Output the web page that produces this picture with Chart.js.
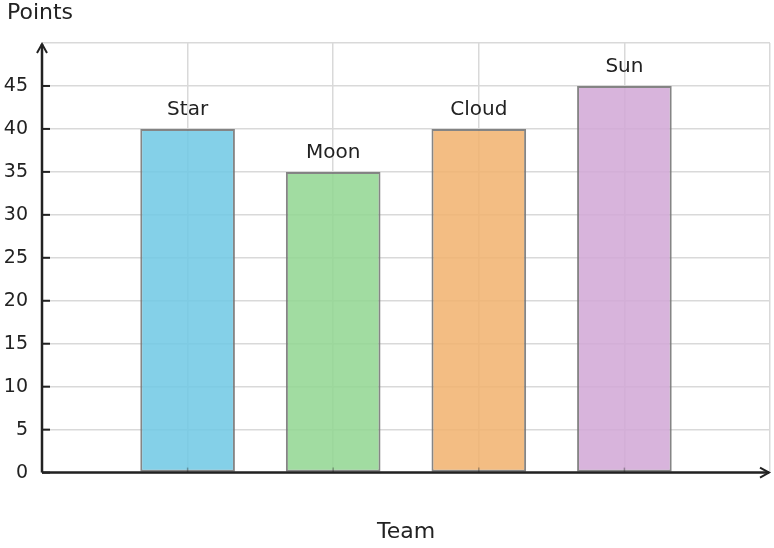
<!DOCTYPE html>
<html>
<head>
<meta charset="utf-8">
<script src="https://cdn.jsdelivr.net/npm/chart.js@4/dist/chart.umd.min.js"></script>
<style>
	html, body { margin: 0; padding: 0; background: #fff; }
	#wrap { width: 774px; height: 548px; }
</style>
</head>
<body>
<div id="wrap"><canvas id="teamChart"></canvas></div>
<script>
// data
const teams = ["", "Star", "Moon", "Cloud", "Sun", ""]
const points = [null, 40, 35, 40, 45, null]
const barColors = [
	"rgba(0,0,0,0)",
	"rgba(111,200,228,0.85)",
	"rgba(144,214,144,0.85)",
	"rgba(241,178,109,0.85)",
	"rgba(209,167,214,0.85)",
	"rgba(0,0,0,0)"
]
const yTicks = [0, 5, 10, 15, 20, 25, 30, 35, 40, 45]

const FONT = "'DejaVu Sans', sans-serif"
const AXIS = "#222222"

// axis arrows, inside tick marks, bar names, "Points" label
const decor = {
	id: "decor",
	afterDatasetsDraw(chart) {
		const ctx = chart.ctx
		const area = chart.chartArea
		const x = chart.scales.x
		const y = chart.scales.y
		const meta = chart.getDatasetMeta(0)

		ctx.save()
		// bar names
		ctx.fillStyle = AXIS
		ctx.font = "20px " + FONT
		ctx.textAlign = "center"
		ctx.textBaseline = "alphabetic"
		meta.data.forEach((bar, i) => {
			if (points[i] == null) return
			ctx.fillText(teams[i], bar.x, bar.y - 14)
		})

		// small tick marks on x axis
		ctx.strokeStyle = "rgba(34,34,34,0.35)"
		ctx.lineWidth = 1.5
		for (let i = 1; i < teams.length - 1; i++) {
			const px = x.getPixelForValue(i)
			ctx.beginPath()
			ctx.moveTo(px, area.bottom)
			ctx.lineTo(px, area.bottom - 5)
			ctx.stroke()
		}

		// y tick marks
		ctx.strokeStyle = AXIS
		ctx.lineWidth = 2
		yTicks.forEach(v => {
			const py = y.getPixelForValue(v)
			ctx.beginPath()
			ctx.moveTo(area.left, py)
			ctx.lineTo(area.left + 8, py)
			ctx.stroke()
		})

		// axes with arrows
		ctx.lineWidth = 2.5
		ctx.beginPath()
		ctx.moveTo(area.left, area.bottom)
		ctx.lineTo(area.left, area.top + 1)
		ctx.moveTo(area.left, area.bottom)
		ctx.lineTo(area.right - 1, area.bottom)
		ctx.stroke()
		ctx.lineWidth = 2
		ctx.beginPath()
		ctx.moveTo(area.left - 5, area.top + 10)
		ctx.lineTo(area.left, area.top + 1)
		ctx.lineTo(area.left + 5, area.top + 10)
		ctx.moveTo(area.right - 10, area.bottom - 5)
		ctx.lineTo(area.right - 1, area.bottom)
		ctx.lineTo(area.right - 10, area.bottom + 5)
		ctx.stroke()

		// y title, written flat at the top left
		ctx.font = "22px " + FONT
		ctx.textAlign = "left"
		ctx.textBaseline = "middle"
		ctx.fillText("Points", 7, 13)
		ctx.restore()
	}
}

new Chart(document.getElementById("teamChart"), {
	type: "bar",
	data: {
		labels: teams,
		datasets: [{
			data: points,
			backgroundColor: barColors,
			borderColor: "rgba(120,120,120,0.9)",
			borderWidth: 2,
			borderSkipped: false,
			barPercentage: 0.65,
			categoryPercentage: 1
		}]
	},
	options: {
		responsive: true,
		maintainAspectRatio: false,
		animation: false,
		devicePixelRatio: 1,
		layout: {
			padding: { left: 0, right: 4, top: 43, bottom: 3 }
		},
		plugins: {
			legend: { display: false },
			tooltip: { enabled: false }
		},
		scales: {
			x: {
				offset: false,
				grid: { color: "#d9d9d9", lineWidth: 1.5, drawTicks: false, offset: false },
				border: { display: false },
				ticks: { display: false },
				title: {
					display: true,
					text: "Team",
					color: AXIS,
					font: { family: FONT, size: 22 },
					padding: { top: 46, bottom: 0 }
				}
			},
			y: {
				min: 0,
				max: 50,
				grid: { color: "#d9d9d9", lineWidth: 1.5, drawTicks: false },
				border: { display: false },
				afterFit(scale) { scale.width = 42 },
				ticks: {
					stepSize: 5,
					padding: 14,
					color: AXIS,
					font: { family: FONT, size: 19 },
					callback: v => (v === 50 ? "" : v)
				}
			}
		}
	},
	plugins: [decor]
});
</script>
</body>
</html>
